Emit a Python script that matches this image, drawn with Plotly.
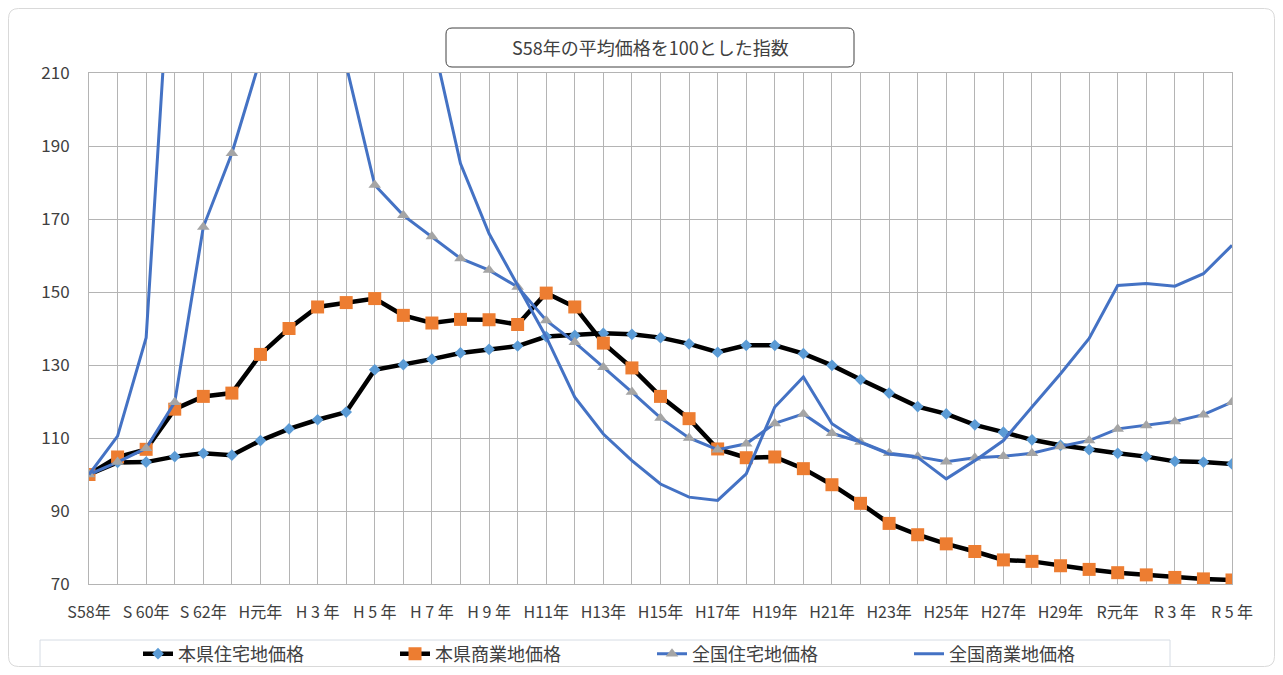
import plotly.graph_objects as go

# ---------------- data ----------------
years = ["S58年", "S59年", "S60年", "S61年", "S62年", "S63年", "H元年", "H2年", "H3年", "H4年",
         "H5年", "H6年", "H7年", "H8年", "H9年", "H10年", "H11年", "H12年", "H13年", "H14年",
         "H15年", "H16年", "H17年", "H18年", "H19年", "H20年", "H21年", "H22年", "H23年", "H24年",
         "H25年", "H26年", "H27年", "H28年", "H29年", "H30年", "R元年", "R2年", "R3年", "R4年", "R5年"]

tick_labels = ["S58年", "S 60年", "S 62年", "H元年", "H 3 年", "H 5 年", "H 7 年", "H 9 年",
               "H11年", "H13年", "H15年", "H17年", "H19年", "H21年", "H23年", "H25年",
               "H27年", "H29年", "R元年", "R 3 年", "R 5 年"]

pref_residential = [100, 103.3, 103.4, 104.9, 105.8, 105.3, 109.3, 112.5, 115.0, 117.1,
                    128.7, 130.1, 131.6, 133.3, 134.3, 135.2, 137.8, 138.1, 138.7, 138.4,
                    137.5, 135.8, 133.5, 135.4, 135.4, 133.1, 129.9, 126.0, 122.3, 118.6,
                    116.6, 113.6, 111.6, 109.5, 108.0, 106.8, 105.8, 104.9, 103.6, 103.4, 102.9]

pref_commercial = [100, 104.8, 106.9, 117.9, 121.4, 122.3, 132.9, 140.0, 145.9, 147.1,
                   148.2, 143.6, 141.5, 142.5, 142.4, 141.1, 149.7, 145.9, 136.0, 129.2,
                   121.4, 115.3, 107.0, 104.6, 104.8, 101.6, 97.2, 92.1, 86.6, 83.5,
                   81.0, 78.9, 76.6, 76.2, 75.0, 74.0, 73.1, 72.5, 71.8, 71.4, 71.1]

nat_residential = [100, 103.4, 107.2, 119.8, 167.8, 188.0, 214.0, 240.0, 245.0, 212.5,
                   179.3, 171.0, 165.2, 159.2, 156.0, 151.4, 142.2, 136.2, 129.4, 122.6,
                   115.5, 110.0, 106.8, 108.4, 114.0, 116.6, 111.3, 108.9, 105.8, 104.9,
                   103.5, 104.6, 105.0, 105.8, 107.7, 109.3, 112.5, 113.4, 114.5, 116.4, 119.8]

nat_commercial = [100, 110.5, 137.5, 262.0, 330.0, 370.0, 400.0, 430.0, 430.0, 380.0,
                  320.0, 265.0, 220.0, 185.2, 166.0, 151.8, 137.7, 121.2, 111.1, 103.8,
                  97.4, 93.8, 92.9, 100.2, 118.5, 126.7, 113.9, 108.8, 105.6, 104.7,
                  98.8, 103.8, 109.3, 118.5, 127.6, 137.3, 151.8, 152.3, 151.6, 155.0, 162.8]

series_names = ["本県住宅地価格", "本県商業地価格", "全国住宅地価格", "全国商業地価格"]

# ---------------- layout helpers (screen px -> figure) ----------------
OFF = 8                      # page body margin
W, H = 1283 - 2 * OFF, 675 - 2 * OFF
PL, PR, PT, PB = 89, 1232, 73, 584   # plot area on screen
ML, MT = PL - OFF, PT - OFF
MR, MB = W - (PR - OFF), H - (PB - OFF)
PW, PH = PR - PL, PB - PT


def px(x):
    return (x - PL) / PW


def py(y):
    return (PB - y) / PH


def rounded_rect(x0, y0, x1, y1, r):
    X0, X1 = px(x0), px(x1)
    Y0, Y1 = py(y0), py(y1)
    rx, ry = r / PW, r / PH
    return (f"M {X0+rx},{Y0} L {X1-rx},{Y0} Q {X1},{Y0} {X1},{Y0-ry} "
            f"L {X1},{Y1+ry} Q {X1},{Y1} {X1-rx},{Y1} L {X0+rx},{Y1} "
            f"Q {X0},{Y1} {X0},{Y1+ry} L {X0},{Y0-ry} Q {X0},{Y0} {X0+rx},{Y0} Z")


x_idx = list(range(len(years)))
FONT = "Noto Sans CJK JP"
TXT = "#404040"

fig = go.Figure()
fig.add_trace(go.Scatter(x=x_idx, y=pref_residential, name=series_names[0], mode="lines+markers",
                         line=dict(color="black", width=4.5),
                         marker=dict(symbol="diamond", size=9, color="#5B9BD5")))
fig.add_trace(go.Scatter(x=x_idx, y=pref_commercial, name=series_names[1], mode="lines+markers",
                         line=dict(color="black", width=4.5),
                         marker=dict(symbol="square", size=13, color="#ED7D31")))
fig.add_trace(go.Scatter(x=x_idx, y=nat_residential, name=series_names[2], mode="lines+markers",
                         line=dict(color="#4472C4", width=3),
                         marker=dict(symbol="triangle-up", size=11, color="#A5A5A5")))
fig.add_trace(go.Scatter(x=x_idx, y=nat_commercial, name=series_names[3], mode="lines",
                         line=dict(color="#4472C4", width=3)))

grid = "#b4b4b4"
fig.update_xaxes(range=[0, len(years) - 1], tickmode="array",
                 tickvals=x_idx[::2], ticktext=tick_labels,
                 showgrid=True, gridcolor=grid, gridwidth=1,
                 minor=dict(dtick=1, tick0=0, showgrid=True, gridcolor=grid, gridwidth=1),
                 showline=True, linecolor=grid, linewidth=1, mirror=True,
                 zeroline=False, ticks="", ticklabelstandoff=14, automargin=False,
                 tickfont=dict(family=FONT, size=16, color=TXT))
fig.update_yaxes(range=[70, 210], tick0=70, dtick=20,
                 showgrid=True, gridcolor=grid, gridwidth=1,
                 showline=True, linecolor=grid, linewidth=1, mirror=True,
                 zeroline=False, ticks="", ticklabelstandoff=15, automargin=False,
                 tickfont=dict(family=FONT, size=17, color=TXT))

shapes = [
    dict(type="path", xref="paper", yref="paper", path=rounded_rect(OFF + 0.5, OFF + 0.5, 1283 - OFF - 0.5, 675 - OFF - 0.5, 10),
         line=dict(color="#d9d9d9", width=1), layer="below"),
    dict(type="path", xref="paper", yref="paper", path=rounded_rect(446, 28, 854, 67, 6),
         line=dict(color="#404040", width=1), fillcolor="white", layer="above"),
    dict(type="rect", xref="paper", yref="paper", x0=px(40), x1=px(1170), y0=py(640), y1=py(668),
         line=dict(color="#d6dce4", width=1), layer="below"),
]

fig.update_layout(
    width=W, height=H,
    margin=dict(l=ML, r=MR, t=MT, b=MB, pad=0, autoexpand=False),
    paper_bgcolor="white", plot_bgcolor="white",
    font=dict(family=FONT, color=TXT),
    shapes=shapes,
    annotations=[dict(text="S58年の平均価格を100とした指数", xref="paper", yref="paper",
                      x=px(650), y=py(47), xanchor="center", yanchor="middle", showarrow=False,
                      font=dict(family=FONT, size=18, color=TXT))],
    legend=dict(orientation="h", x=px(138), xanchor="left", y=py(654), yanchor="middle",
                entrywidth=212, entrywidthmode="pixels",
                font=dict(family=FONT, size=18, color=TXT),
                bgcolor="rgba(0,0,0,0)", borderwidth=0),
    showlegend=True,
)

fig.write_html("out.html")
